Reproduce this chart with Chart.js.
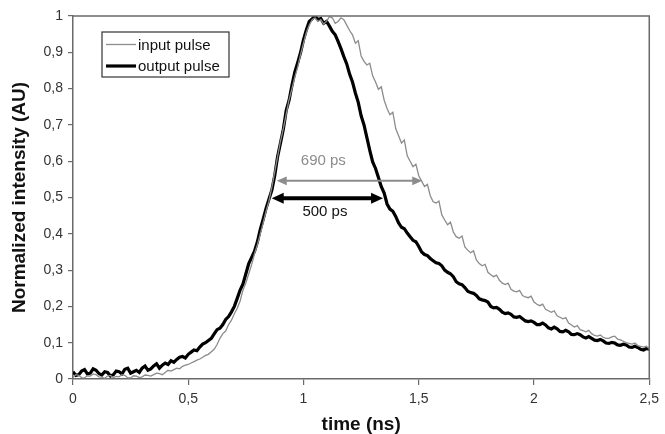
<!DOCTYPE html>
<html>
<head>
<meta charset="utf-8">
<script src="https://cdn.jsdelivr.net/npm/chart.js@4/dist/chart.umd.min.js"></script>
<style>
  html, body { margin: 0; padding: 0; background: #fff; }
  #wrap { width: 665px; height: 434px; }
</style>
</head>
<body>
<div id="wrap"><canvas id="pulseChart" width="665" height="434"></canvas></div>
<script>
// time axis (ns), one row per 0.1 ns
const times = [
  0, 0.0125, 0.025, 0.0375, 0.05, 0.0625, 0.075, 0.0875,
  0.1, 0.1125, 0.125, 0.1375, 0.15, 0.1625, 0.175, 0.1875,
  0.2, 0.2125, 0.225, 0.2375, 0.25, 0.2625, 0.275, 0.2875,
  0.3, 0.3125, 0.325, 0.3375, 0.35, 0.3625, 0.375, 0.3875,
  0.4, 0.4125, 0.425, 0.4375, 0.45, 0.4625, 0.475, 0.4875,
  0.5, 0.5125, 0.525, 0.5375, 0.55, 0.5625, 0.575, 0.5875,
  0.6, 0.6125, 0.625, 0.6375, 0.65, 0.6625, 0.675, 0.6875,
  0.7, 0.7125, 0.725, 0.7375, 0.75, 0.7625, 0.775, 0.7875,
  0.8, 0.8125, 0.825, 0.8375, 0.85, 0.8625, 0.875, 0.8875,
  0.9, 0.9125, 0.925, 0.9375, 0.95, 0.9625, 0.975, 0.9875,
  1.0, 1.0125, 1.025, 1.0375, 1.05, 1.0625, 1.075, 1.0875,
  1.1, 1.1125, 1.125, 1.1375, 1.15, 1.1625, 1.175, 1.1875,
  1.2, 1.2125, 1.225, 1.2375, 1.25, 1.2625, 1.275, 1.2875,
  1.3, 1.3125, 1.325, 1.3375, 1.35, 1.3625, 1.375, 1.3875,
  1.4, 1.4125, 1.425, 1.4375, 1.45, 1.4625, 1.475, 1.4875,
  1.5, 1.5125, 1.525, 1.5375, 1.55, 1.5625, 1.575, 1.5875,
  1.6, 1.6125, 1.625, 1.6375, 1.65, 1.6625, 1.675, 1.6875,
  1.7, 1.7125, 1.725, 1.7375, 1.75, 1.7625, 1.775, 1.7875,
  1.8, 1.8125, 1.825, 1.8375, 1.85, 1.8625, 1.875, 1.8875,
  1.9, 1.9125, 1.925, 1.9375, 1.95, 1.9625, 1.975, 1.9875,
  2.0, 2.0125, 2.025, 2.0375, 2.05, 2.0625, 2.075, 2.0875,
  2.1, 2.1125, 2.125, 2.1375, 2.15, 2.1625, 2.175, 2.1875,
  2.2, 2.2125, 2.225, 2.2375, 2.25, 2.2625, 2.275, 2.2875,
  2.3, 2.3125, 2.325, 2.3375, 2.35, 2.3625, 2.375, 2.3875,
  2.4, 2.4125, 2.425, 2.4375, 2.45, 2.4625, 2.475, 2.4875,
  2.5
];

const inputPulse = [
  0.005, 0.012, 0.010, 0.004, 0.003, 0.009, 0.008, 0.014,
  0.012, 0.006, 0.005, 0.002, 0.008, 0.010, 0.004, 0.007,
  0.006, 0.012, 0.010, 0.003, 0.003, 0.009, 0.008, 0.004,
  0.006, 0.011, 0.010, 0.008, 0.012, 0.016, 0.015, 0.012,
  0.018, 0.024, 0.022, 0.026, 0.030, 0.028, 0.035, 0.038,
  0.040, 0.044, 0.048, 0.052, 0.055, 0.060, 0.065, 0.068,
  0.075, 0.082, 0.095, 0.112, 0.125, 0.132, 0.150, 0.162,
  0.180, 0.195, 0.215, 0.245, 0.265, 0.290, 0.315, 0.345,
  0.370, 0.400, 0.430, 0.462, 0.490, 0.528, 0.570, 0.612,
  0.655, 0.690, 0.730, 0.770, 0.800, 0.832, 0.860, 0.895,
  0.925, 0.955, 0.975, 0.990, 0.995, 0.985, 0.990, 0.978,
  0.985, 0.998, 0.995, 0.980, 0.985, 0.995, 0.990, 0.975,
  0.960, 0.948, 0.925, 0.932, 0.890, 0.875, 0.865, 0.870,
  0.835, 0.818, 0.798, 0.805, 0.768, 0.745, 0.728, 0.735,
  0.690, 0.670, 0.650, 0.658, 0.615, 0.600, 0.585, 0.592,
  0.560, 0.545, 0.530, 0.536, 0.505, 0.488, 0.485, 0.490,
  0.452, 0.438, 0.425, 0.432, 0.405, 0.392, 0.388, 0.394,
  0.364, 0.355, 0.348, 0.353, 0.328, 0.318, 0.312, 0.316,
  0.294, 0.287, 0.282, 0.286, 0.272, 0.264, 0.260, 0.264,
  0.247, 0.242, 0.240, 0.244, 0.230, 0.226, 0.224, 0.228,
  0.212, 0.206, 0.202, 0.206, 0.192, 0.188, 0.184, 0.188,
  0.174, 0.170, 0.166, 0.169, 0.154, 0.149, 0.143, 0.147,
  0.136, 0.133, 0.130, 0.134, 0.125, 0.120, 0.118, 0.121,
  0.115, 0.112, 0.112, 0.116, 0.118, 0.110, 0.108, 0.104,
  0.100, 0.098, 0.096, 0.099, 0.092, 0.090, 0.088, 0.090,
  0.083
];

const outputPulse = [
  0.020, 0.010, 0.012, 0.022, 0.026, 0.014, 0.016, 0.028,
  0.024, 0.015, 0.011, 0.020, 0.018, 0.008, 0.012, 0.022,
  0.020, 0.014, 0.027, 0.030, 0.016, 0.020, 0.024, 0.018,
  0.030, 0.036, 0.024, 0.028, 0.036, 0.042, 0.030, 0.038,
  0.044, 0.040, 0.050, 0.046, 0.054, 0.060, 0.062, 0.058,
  0.068, 0.074, 0.080, 0.078, 0.088, 0.096, 0.100, 0.106,
  0.112, 0.124, 0.136, 0.140, 0.150, 0.164, 0.172, 0.185,
  0.200, 0.222, 0.245, 0.262, 0.290, 0.318, 0.335, 0.352,
  0.378, 0.412, 0.440, 0.470, 0.495, 0.520, 0.560, 0.612,
  0.650, 0.688, 0.740, 0.768, 0.810, 0.846, 0.872, 0.900,
  0.935, 0.962, 0.985, 0.992, 1.000, 0.990, 0.993, 0.980,
  0.985, 0.972, 0.958, 0.948, 0.930, 0.910, 0.888, 0.868,
  0.840, 0.818, 0.788, 0.762, 0.725, 0.700, 0.665, 0.630,
  0.598, 0.580, 0.555, 0.530, 0.512, 0.482, 0.468, 0.462,
  0.448, 0.430, 0.418, 0.414, 0.402, 0.392, 0.382, 0.378,
  0.365, 0.350, 0.343, 0.340, 0.332, 0.326, 0.320, 0.318,
  0.312, 0.300, 0.294, 0.290, 0.282, 0.268, 0.262, 0.260,
  0.252, 0.242, 0.238, 0.236, 0.230, 0.221, 0.218, 0.216,
  0.212, 0.200, 0.196, 0.197, 0.192, 0.184, 0.180, 0.182,
  0.178, 0.171, 0.170, 0.172, 0.166, 0.160, 0.158, 0.160,
  0.156, 0.150, 0.150, 0.154, 0.149, 0.141, 0.138, 0.143,
  0.138, 0.131, 0.130, 0.134, 0.130, 0.123, 0.122, 0.125,
  0.122, 0.116, 0.113, 0.117, 0.112, 0.107, 0.106, 0.109,
  0.105, 0.099, 0.098, 0.101, 0.099, 0.094, 0.093, 0.096,
  0.094, 0.088, 0.087, 0.090, 0.087, 0.082, 0.080, 0.084,
  0.082
];

// FWHM markers (ns / normalized intensity)
const widthInput = { from: 0.884, to: 1.515, level: 0.546, text: '690 ps', textX: 1.086, textY: 0.60 };
const widthOutput = { from: 0.862, to: 1.345, level: 0.498, text: '500 ps', textX: 1.093, textY: 0.46 };

const GREY = '#8c8c8c';
const AXIS = '#6a6a6a';
const FONT = '"Liberation Sans", Arial, sans-serif';

const toPoints = (xs, ys) => xs.map((x, i) => ({ x: x, y: ys[i] }));

function arrow(ctx, x1, x2, y, color, lw, head) {
  ctx.save();
  ctx.strokeStyle = color;
  ctx.fillStyle = color;
  ctx.lineWidth = lw;
  ctx.beginPath();
  ctx.moveTo(x1 + head, y);
  ctx.lineTo(x2 - head, y);
  ctx.stroke();
  ctx.beginPath();
  ctx.moveTo(x1, y);
  ctx.lineTo(x1 + head + 2, y - head * 0.55);
  ctx.lineTo(x1 + head + 2, y + head * 0.55);
  ctx.closePath();
  ctx.fill();
  ctx.beginPath();
  ctx.moveTo(x2, y);
  ctx.lineTo(x2 - head - 2, y - head * 0.55);
  ctx.lineTo(x2 - head - 2, y + head * 0.55);
  ctx.closePath();
  ctx.fill();
  ctx.restore();
}

const extras = {
  id: 'extras',
  afterDraw(chart) {
    const { ctx, chartArea: a, scales: { x, y } } = chart;
    // top + right frame
    ctx.save();
    ctx.strokeStyle = AXIS;
    ctx.lineWidth = 1.5;
    ctx.beginPath();
    ctx.moveTo(a.left, a.top);
    ctx.lineTo(a.right, a.top);
    ctx.lineTo(a.right, a.bottom);
    ctx.stroke();
    ctx.restore();

    // width arrows
    arrow(ctx, x.getPixelForValue(widthInput.from), x.getPixelForValue(widthInput.to),
      y.getPixelForValue(widthInput.level), GREY, 2, 8);
    arrow(ctx, x.getPixelForValue(widthOutput.from), x.getPixelForValue(widthOutput.to),
      y.getPixelForValue(widthOutput.level), '#000', 4, 10);

    ctx.save();
    ctx.font = '15px ' + FONT;
    ctx.textAlign = 'center';
    ctx.textBaseline = 'middle';
    ctx.fillStyle = GREY;
    ctx.fillText(widthInput.text, x.getPixelForValue(widthInput.textX), y.getPixelForValue(widthInput.textY));
    ctx.fillStyle = '#111';
    ctx.fillText(widthOutput.text, x.getPixelForValue(widthOutput.textX), y.getPixelForValue(widthOutput.textY));
    ctx.restore();

    // legend box
    ctx.save();
    ctx.fillStyle = '#fff';
    ctx.fillRect(102, 32, 127, 45);
    ctx.strokeStyle = '#333';
    ctx.lineWidth = 1.2;
    ctx.strokeRect(102, 32, 127, 45);
    ctx.font = '15px ' + FONT;
    ctx.textBaseline = 'middle';
    ctx.fillStyle = '#111';
    chart.data.datasets.forEach((ds, i) => {
      const ly = 44.5 + i * 21.5;
      ctx.strokeStyle = ds.borderColor;
      ctx.lineWidth = ds.borderWidth;
      ctx.beginPath();
      ctx.moveTo(106, ly);
      ctx.lineTo(136, ly);
      ctx.stroke();
      ctx.fillText(ds.label, 138, ly + 1);
    });
    ctx.restore();
  }
};

new Chart(document.getElementById('pulseChart'), {
  type: 'line',
  data: {
    datasets: [
      {
        label: 'input pulse',
        data: toPoints(times, inputPulse),
        borderColor: GREY,
        borderWidth: 1.3,
        pointRadius: 0,
        tension: 0
      },
      {
        label: 'output pulse',
        data: toPoints(times, outputPulse),
        borderColor: '#000',
        borderWidth: 3.2,
        pointRadius: 0,
        tension: 0
      }
    ]
  },
  options: {
    responsive: false,
    animation: false,
    layout: { padding: { top: 16, right: 12, left: 0, bottom: 0 } },
    plugins: {
      legend: { display: false },
      tooltip: { enabled: false }
    },
    scales: {
      x: {
        type: 'linear',
        min: 0,
        max: 2.5,
        afterFit: (s) => { s.height = 55; },
        border: { color: AXIS, width: 1.5 },
        grid: { drawOnChartArea: false, drawTicks: true, tickLength: 6, color: AXIS, lineWidth: 1.2 },
        ticks: {
          stepSize: 0.5,
          padding: 6,
          color: '#333',
          font: { family: FONT, size: 14 },
          callback: (v) => String(v).replace('.', ',')
        },
        title: {
          display: true,
          text: 'time (ns)',
          color: '#111',
          font: { family: FONT, size: 19, weight: 'bold', lineHeight: 1 },
          padding: { top: 0, bottom: 0 }
        }
      },
      y: {
        min: 0,
        max: 1,
        afterFit: (s) => { s.width = 73; },
        border: { color: AXIS, width: 1.5 },
        grid: { drawOnChartArea: false, drawTicks: true, tickLength: 5, color: AXIS, lineWidth: 1.2 },
        ticks: {
          stepSize: 0.1,
          padding: 5,
          color: '#333',
          font: { family: FONT, size: 14 },
          callback: (v) => String(Math.round(v * 10) / 10).replace('.', ',')
        },
        title: {
          display: true,
          text: 'Normalized intensity (AU)',
          color: '#111',
          font: { family: FONT, size: 19, weight: 'bold', lineHeight: 1 },
          padding: { top: 10, bottom: 0 }
        }
      }
    }
  },
  plugins: [extras]
});
</script>
</body>
</html>
